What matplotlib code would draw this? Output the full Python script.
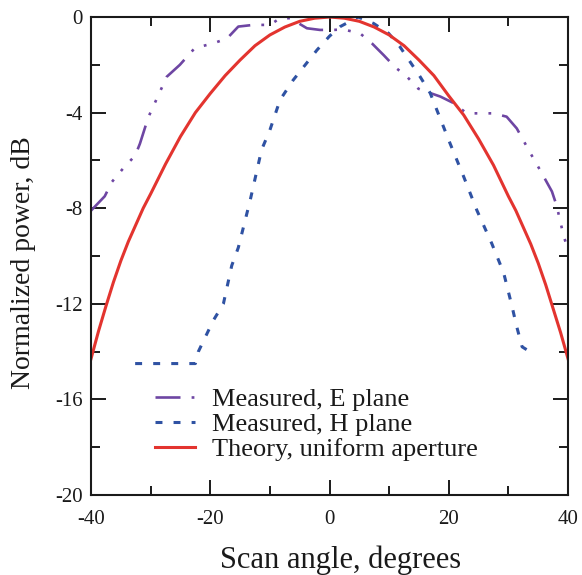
import matplotlib
matplotlib.use("Agg")
import matplotlib.pyplot as plt
from matplotlib.ticker import MultipleLocator

# ---- data ----
theory_x = [-40, -38.75, -37.5, -36.25, -35, -33.75, -32.5, -31.25, -30, -27.5, -25, -22.5, -20, -17.5, -15, -12.5,
            -10, -7.5, -5, -2.5, 0,
            2.5, 5, 7.5, 10, 12.5, 15, 17.5, 20, 22.5, 25, 27.5, 30, 31.25, 32.5, 33.75, 35, 36.25, 37.5, 38.75, 40]
theory_y = [-14.3, -13.15, -12.1, -11.1, -10.2, -9.4, -8.7, -8.0, -7.4, -6.15, -5.0, -4.0, -3.2, -2.45, -1.8, -1.2,
            -0.75, -0.42, -0.18, -0.05, 0.0,
            -0.05, -0.18, -0.42, -0.75, -1.2, -1.8, -2.45, -3.3, -4.1, -5.1, -6.2, -7.5, -8.1, -8.8, -9.5, -10.3, -11.2,
            -12.2, -13.2, -14.3]

e_x = [-40, -37.7, -36.5, -34.5, -32.6, -31.8, -30.4, -27.3, -25.1, -22.6, -19.5, -17.2, -15.3, -12.8, -10.0,
       -8.3, -6.6, -3.8, -1.6, 0.6, 2.3, 5.1, 7.1, 9.1, 11.0, 13.0, 14.9, 16.3, 18.6, 20.8, 23.0, 27.5, 29.7,
       31.4, 33.7, 35.3, 37.3, 38.1, 39.3, 40]
e_y = [-8.1, -7.5, -6.9, -6.3, -5.8, -5.3, -4.2, -2.5, -2.0, -1.3, -1.1, -0.9, -0.4, -0.33, -0.33,
       -0.05, -0.05, -0.47, -0.54, -0.54, -0.52, -0.68, -1.1, -1.6, -2.1, -2.5, -3.0, -3.13, -3.33, -3.6, -4.03, -4.03, -4.17,
       -4.66, -5.7, -6.4, -7.3, -7.9, -9.2, -9.7]

h_x = [-32.6, -22.5, -22.0, -19.5, -17.8, -16.4, -15.3, -13.3, -11.4, -10.0, -8.3, -6.1, -2.1, 0.0, 1.8, 4.8,
       7.4, 9.9, 11.8, 13.5, 15.2, 16.9, 18.0, 20.2, 22.5, 24.7, 27.2, 29.2, 30.6, 31.4, 32.3, 34.5]
h_y = [-14.5, -14.5, -14.0, -12.7, -12.0, -10.4, -9.65, -7.66, -5.56, -4.73, -3.47, -2.64, -1.38, -0.8, -0.4, 0.0,
       -0.27, -0.68, -1.24, -1.87, -2.5, -3.19, -3.89, -5.28, -6.68, -8.08, -9.47, -10.7, -12.1, -12.96, -13.8, -14.14]

labels = ["Measured, E plane", "Measured, H plane", "Theory, uniform aperture"]
x_ticks = [-40, -20, 0, 20, 40]
y_ticks = [0, -4, -8, -12, -16, -20]

# ---- style ----
plt.rcParams['font.family'] = ['Liberation Serif', 'DejaVu Serif']
plt.rcParams['axes.unicode_minus'] = False
plt.rcParams['lines.scale_dashes'] = False

c_red = '#e3342f'
c_blue = '#2f52a3'
c_purple = '#6e46a3'

fig = plt.figure(figsize=(5.82, 5.75), dpi=100)
ax = fig.add_axes([0.1564, 0.1391, 0.8196, 0.8313])

le, = ax.plot(e_x, e_y, color=c_purple, lw=1.9, dashes=[18, 8, 2, 8, 2, 8, 2, 8], label=labels[0])
lh, = ax.plot(h_x, h_y, color=c_blue, lw=2.2, dashes=[5, 8], label=labels[1])
lt, = ax.plot(theory_x, theory_y, color=c_red, lw=2.2, label=labels[2])

ax.set_xlim(-40, 40)
ax.set_ylim(-20, 0)
ax.set_xticks(x_ticks)
ax.set_yticks(y_ticks)
ax.xaxis.set_minor_locator(MultipleLocator(10))
ax.yaxis.set_minor_locator(MultipleLocator(2))
ax.tick_params(which='both', direction='in', top=True, right=True, width=1.4, colors='#1a1a1a')
ax.tick_params(which='major', length=11)
ax.tick_params(which='minor', length=6.5)
ax.tick_params(axis='x', which='major', labelsize=15, pad=11)
ax.tick_params(axis='y', which='major', labelsize=15, pad=6)
for s in ax.spines.values():
    s.set_linewidth(1.5)
    s.set_color('#1a1a1a')

ax.set_xlabel("Scan angle, degrees", fontsize=22, va='center', color='#1a1a1a')
ax.xaxis.set_label_coords(0.524, -0.136)
ax.set_ylabel("Normalized power, dB", fontsize=20, va='center', color='#1a1a1a')
ax.yaxis.set_label_coords(-0.142, 0.487)

leg = ax.legend(handles=[le, lh, lt], loc='upper left', bbox_to_anchor=(0.134, 0.2245),
                frameon=False, fontsize=19, borderpad=0, borderaxespad=0,
                handlelength=1.5, handletextpad=0.68, labelspacing=0.06)
for t in leg.get_texts():
    t.set_color('#1a1a1a')

fig.savefig("out.png", dpi=100)
